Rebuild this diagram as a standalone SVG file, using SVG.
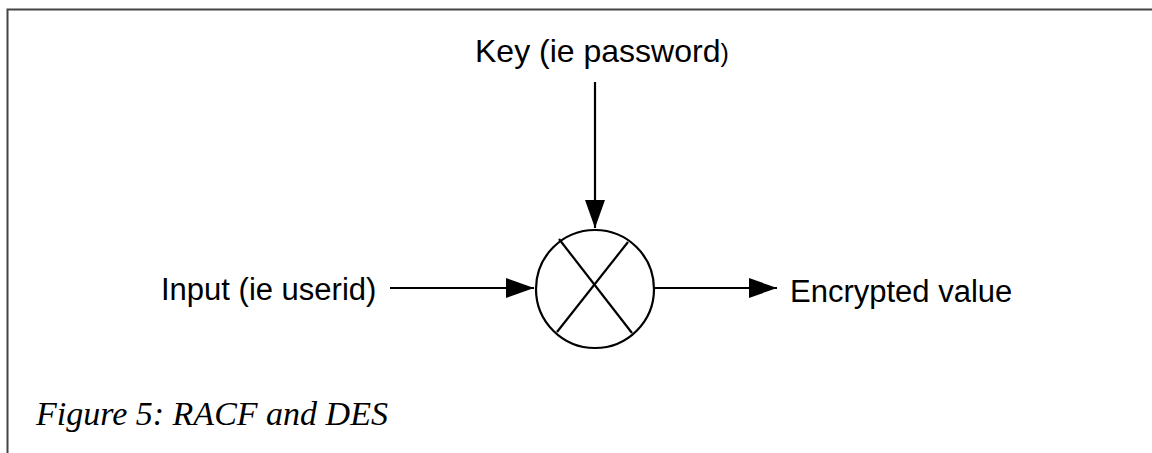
<svg xmlns="http://www.w3.org/2000/svg" width="1152" height="453" viewBox="0 0 1152 453">
<defs>
<style>
.lbl{font-family:"Liberation Sans",Arial,sans-serif;font-size:31px;fill:#000}
.key{font-size:32px}
.small{font-size:25px}
.cap{font-family:"Liberation Serif","Times New Roman",serif;font-size:34px;font-style:italic;fill:#000}
.ln{stroke:#000;stroke-width:2.2;fill:none}
</style>
<marker id="ah" viewBox="0 0 28 20" refX="28" refY="10" markerWidth="28" markerHeight="20" markerUnits="userSpaceOnUse" orient="auto">
<path d="M0,0 L28,10 L0,20 Z" fill="#000"/>
</marker>
</defs>
<rect width="1152" height="453" fill="#fff"/>
<g id="frame">
<path d="M7.5,453 V9.5 H1152" stroke="#444" stroke-width="2" fill="none"/>
</g>
<g id="key">
<text class="lbl key" x="475" y="62">Key (ie password<tspan class="small">)</tspan></text>
</g>
<g id="input">
<text class="lbl" x="161" y="300">Input (ie userid)</text>
</g>
<g id="output">
<text class="lbl" x="790" y="302">Encrypted value</text>
</g>
<g id="des">
<circle class="ln" cx="595" cy="289" r="59"/>
<line class="ln" x1="559" y1="239" x2="632" y2="333"/>
<line class="ln" x1="628" y1="242" x2="557" y2="332"/>
</g>
<g id="connectors">
<line class="ln" x1="595" y1="82" x2="595" y2="228" marker-end="url(#ah)"/>
<line class="ln" x1="390" y1="288" x2="534" y2="288" marker-end="url(#ah)"/>
<line class="ln" x1="654" y1="288" x2="777" y2="288" marker-end="url(#ah)"/>
</g>
<g id="caption">
<text class="cap" x="36" y="425">Figure 5: RACF and DES</text>
</g>
</svg>
